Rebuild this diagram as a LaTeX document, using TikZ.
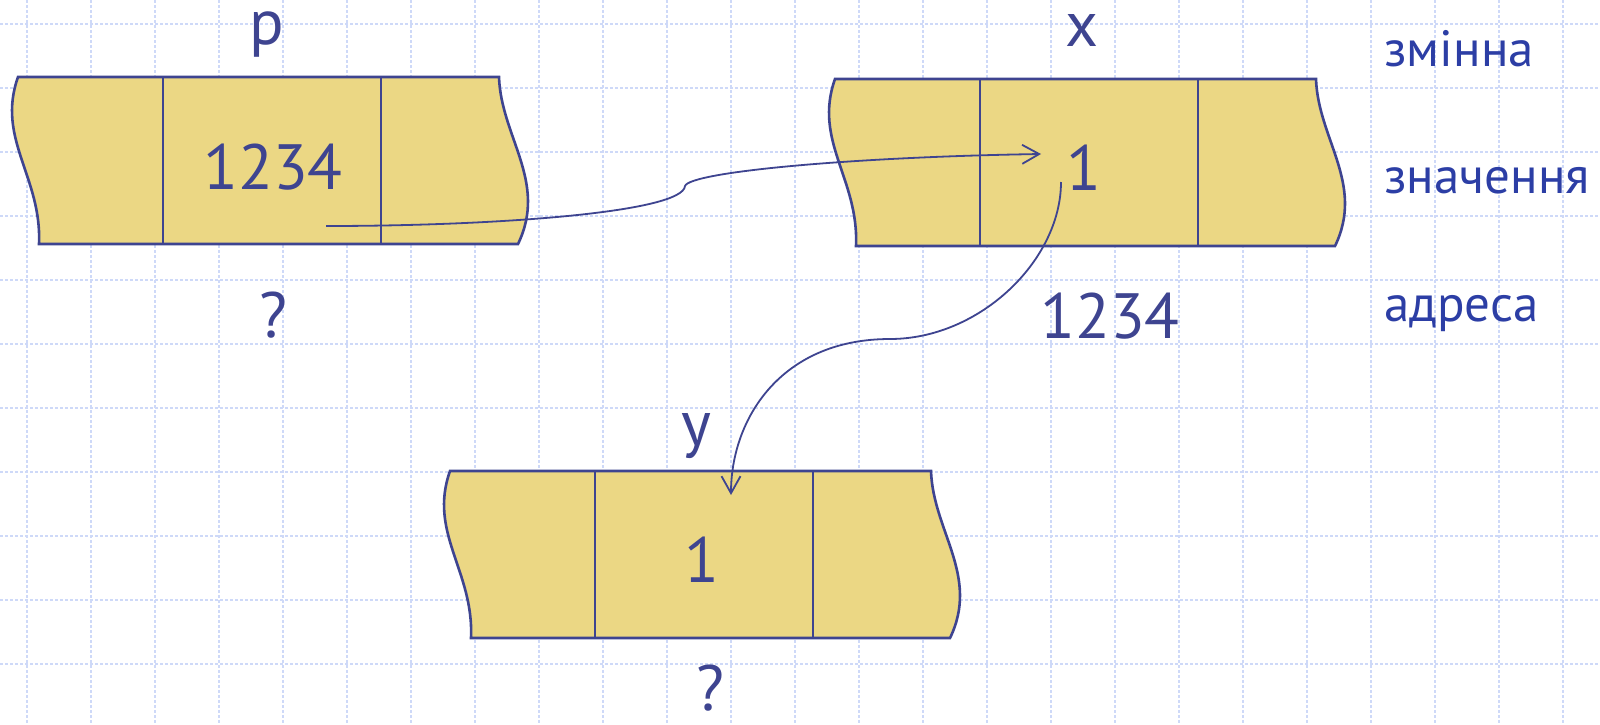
\documentclass[tikz,border=0pt]{standalone}
\usepackage{fontspec}
\setmainfont{PT Sans}
\usetikzlibrary{arrows.meta}
\definecolor{gridc}{RGB}{206,217,248}
\definecolor{boxfill}{RGB}{235,215,132}
\definecolor{inkc}{RGB}{62,68,144}
\definecolor{labc}{RGB}{44,62,165}
\tikzset{
  memshape/.style={fill=boxfill, draw=inkc, line width=1.3pt, line join=miter},
  divline/.style={draw=inkc, line width=1.3pt},
  gridline/.style={draw=gridc, line width=0.75pt, dash pattern=on 1.5pt off 1pt},
  conn/.style={draw=inkc, line width=0.9pt, -{Straight Barb[length=8.5pt,width=9.5pt,line width=0.9pt]}},
  valtext/.style={text=inkc, font=\fontsize{32}{38}\selectfont, anchor=base, inner sep=0pt},
  labtext/.style={text=labc, font=\fontsize{25.5}{30}\selectfont, anchor=base west, inner sep=0pt},
}
\newcommand\memrow[2]{%
  \begin{scope}[shift={(#1,#2)}]
    \path[memshape] (0,0) .. controls (-22,62) and (24,100) .. (21,167) -- (500,167) .. controls (530,105) and (483,60) .. (481,0) -- cycle;
    \draw[divline] (145,0) -- (145,167) (363,0) -- (363,167);
  \end{scope}}
\begin{document}
\begin{tikzpicture}[x=0.5pt,y=-0.5pt]
\useasboundingbox (0,0) rectangle (1600,724);
\fill[white] (0,0) rectangle (1600,724);
\foreach \gx in {0,...,24} \draw[gridline] ({27+64*\gx},0) -- ({27+64*\gx},724);
\foreach \gy in {0,...,10} \draw[gridline] (0,{24+64*\gy}) -- (1600,{24+64*\gy});

\memrow{18}{77}
\memrow{835}{79}
\memrow{450}{471}

\node[valtext] (pname) at (267,44) {p};
\node[valtext] (pval) at (273,189) {1234};
\node[valtext] (paddr) at (273,337) {?};
\node[valtext] (xname) at (1082,46) {x};
\node[valtext] (xval) at (1084,190) {1};
\node[valtext] (xaddr) at (1110,338) {1234};
\node[valtext] (yname) at (696,445) {y};
\node[valtext] (yval) at (702,582) {1};
\node[valtext] (yaddr) at (710,710) {?};
\node[labtext] (lvar) at (1384,66) {змінна};
\node[labtext] (lval) at (1384,193) {значення};
\node[labtext] (ladr) at (1384,321) {адреса};

\coordinate (pptr) at (326,226);
\coordinate (kink) at (685,186);
\coordinate (xin) at (1041,154);
\coordinate (xout) at (1061,182);
\coordinate (bend) at (890,339);
\coordinate (yin) at (731,495);
\draw[conn] (pptr) .. controls (500,226) and (683,212) .. (kink) .. controls (690,172) and (850,157) .. (xin);
\draw[conn] (xout) .. controls (1061,260) and (980,339) .. (bend) .. controls (780,339) and (731,420) .. (yin);
\end{tikzpicture}
\end{document}
